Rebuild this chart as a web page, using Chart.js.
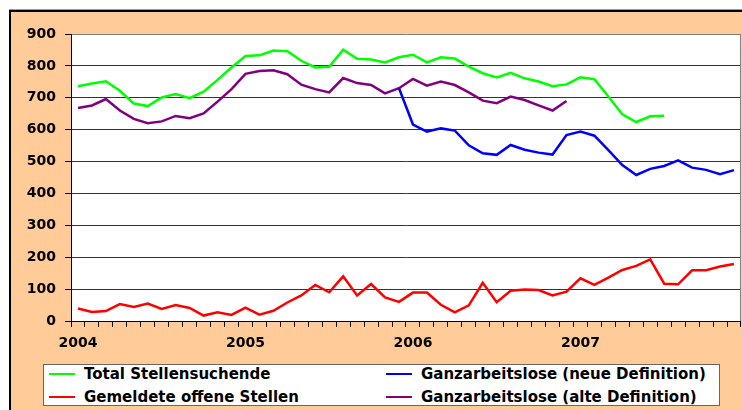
<!DOCTYPE html>
<html>
<head>
<meta charset="utf-8">
<script src="https://cdn.jsdelivr.net/npm/chart.js@4.4.1/dist/chart.umd.min.js"></script>
<style>
    body { margin: 0; background: #fff; }
    #wrap { position: relative; width: 742px; height: 410px; overflow: hidden; background: #fff; }
    #frame { position: absolute; left: 9px; top: 10px; width: 760px; height: 420px;
             background: #ffcc99; border-left: 2px solid #000; border-top: 2px solid #000;
             box-shadow: 0 -1px 0 #999; }
    #chart { position: absolute; left: 0; top: 0; }
    #legend { position: absolute; left: 43px; top: 364px; width: 675px; height: 40px;
              background: #fff; border: 1px solid #666;
              font: bold 15px "DejaVu Sans", sans-serif; color: #000; }
    .item { position: absolute; height: 18px; line-height: 18px; white-space: nowrap; }
    .item i { position: absolute; left: 0; top: 8px; width: 26px; height: 2px; }
    .item span { position: absolute; left: 35px; top: 0; }
</style>
</head>
<body>
<div id="wrap">
    <div id="frame"></div>
    <canvas id="chart" width="742" height="410"></canvas>
    <div id="legend"></div>
</div>
<script>
    // monthly values, Jan 2004 - Dec 2007 (in thousands)
    var months = [];
    for (var y = 2004; y <= 2007; y++) {
        for (var m = 1; m <= 12; m++) {
            months.push(y + '-' + (m < 10 ? '0' + m : m));
        }
    }

    var totalStellensuchende = [736, 745, 752, 722, 682, 674, 701, 712, 699, 719, 756, 795,
        831, 833, 848, 846, 816, 795, 797, 851, 822, 820, 811, 827,
        835, 811, 827, 823, 798, 777, 764, 778, 761, 751, 736, 742,
        764, 758, 704, 648, 624, 642, 644, null, null, null, null, null];

    var offeneStellen = [39, 28, 31, 53, 44, 55, 38, 50, 41, 17, 27, 19,
        42, 20, 32, 58, 80, 113, 90, 140, 80, 116, 74, 60,
        89, 89, 51, 27, 49, 120, 59, 95, 99, 97, 80, 92,
        134, 113, 136, 160, 173, 193, 117, 115, 159, 159, 171, 179];

    var arbeitsloseNeu = [null, null, null, null, null, null, null, null, null, null, null, null,
        null, null, null, null, null, null, null, null, null, null, null, 730,
        616, 594, 604, 597, 551, 526, 521, 552, 537, 528, 522, 583,
        594, 581, 536, 489, 458, 477, 486, 504, 481, 474, 460, 473];

    var arbeitsloseAlt = [668, 676, 696, 660, 634, 620, 626, 643, 636, 651, 688, 727,
        775, 784, 786, 774, 741, 727, 717, 762, 746, 740, 714, 730,
        759, 738, 751, 740, 717, 691, 683, 704, 693, 676, 660, 690,
        null, null, null, null, null, null, null, null, null, null, null, null];

    var yTicks = [0, 100, 200, 300, 400, 500, 600, 700, 800, 900];

    function series(label, data, color) {
        return {
            label: label,
            data: data,
            borderColor: color,
            backgroundColor: color,
            borderWidth: 2.5,
            pointRadius: 0,
            tension: 0,
            spanGaps: false
        };
    }

    var datasets = [
        series('Total Stellensuchende', totalStellensuchende, '#00ff00'),
        series('Gemeldete offene Stellen', offeneStellen, '#ff0000'),
        series('Ganzarbeitslose (neue Definition)', arbeitsloseNeu, '#0000ff'),
        series('Ganzarbeitslose (alte Definition)', arbeitsloseAlt, '#800080')
    ];

    // white plot background and gray right edge
    var plotArea = {
        id: 'plotArea',
        beforeDraw: function (chart) {
            var a = chart.chartArea, ctx = chart.ctx;
            ctx.save();
            ctx.fillStyle = '#fff';
            ctx.fillRect(a.left, a.top, a.right - a.left, a.bottom - a.top);
            ctx.restore();
        },
        afterDraw: function (chart) {
            var a = chart.chartArea, ctx = chart.ctx;
            ctx.save();
            ctx.strokeStyle = '#808080';
            ctx.lineWidth = 1;
            ctx.beginPath();
            ctx.moveTo(a.right - 0.5, a.top);
            ctx.lineTo(a.right - 0.5, a.bottom);
            ctx.stroke();
            ctx.restore();
        }
    };

    var tickFont = {family: '"DejaVu Sans", sans-serif', size: 14, weight: 'bold'};

    new Chart(document.getElementById('chart'), {
        type: 'line',
        data: {labels: months, datasets: datasets},
        plugins: [plotArea],
        options: {
            responsive: false,
            animation: false,
            layout: {padding: {left: 0, top: 34, right: 1, bottom: 0}},
            plugins: {legend: {display: false}, tooltip: {enabled: false}},
            scales: {
                x: {
                    type: 'category',
                    offset: true,
                    afterFit: function (scale) { scale.height = 89; },
                    grid: {
                        offset: true,
                        drawOnChartArea: false,
                        color: '#000',
                        tickLength: 6,
                        tickColor: '#000'
                    },
                    border: {color: '#000', width: 1},
                    ticks: {
                        autoSkip: false,
                        maxRotation: 0,
                        padding: 8,
                        color: '#000',
                        font: tickFont,
                        callback: function (value, index) {
                            return index % 12 === 0 ? months[index].slice(0, 4) : '';
                        }
                    }
                },
                y: {
                    min: 0,
                    max: 900,
                    afterFit: function (scale) { scale.width = 71; },
                    afterBuildTicks: function (scale) {
                        scale.ticks = yTicks.map(function (v) { return {value: v}; });
                    },
                    grid: {
                        color: function (ctx) {
                            return ctx.tick && ctx.tick.value === 900 ? '#808080' : '#333';
                        },
                        tickColor: '#000',
                        tickLength: 6,
                        lineWidth: 1
                    },
                    border: {color: '#000', width: 1},
                    ticks: {padding: 9, color: '#000', font: tickFont}
                }
            }
        }
    });

    // legend in two columns, built from the datasets
    var legend = document.getElementById('legend');
    var spots = [[5, 0], [5, 23], [342, 0], [342, 23]];
    datasets.forEach(function (d, k) {
        var el = document.createElement('div');
        el.className = 'item';
        el.style.left = spots[k][0] + 'px';
        el.style.top = spots[k][1] + 'px';
        el.innerHTML = '<i style="background:' + d.borderColor + '"></i><span></span>';
        el.querySelector('span').textContent = d.label;
        legend.appendChild(el);
    });
</script>
</body>
</html>
